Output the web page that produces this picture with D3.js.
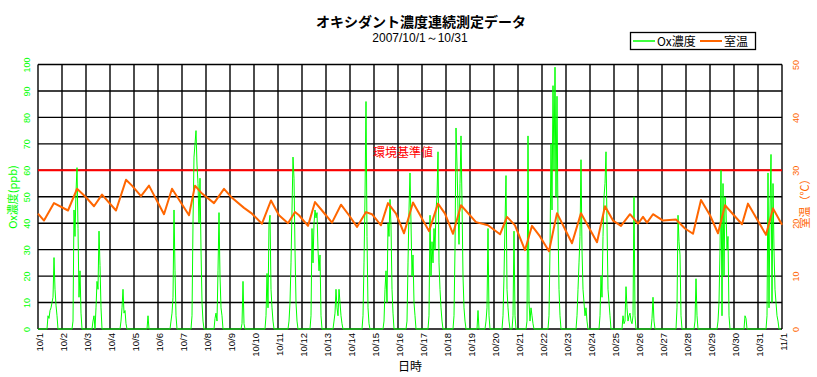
<!DOCTYPE html>
<html>
<head>
<meta charset="utf-8">
<script src="https://cdn.jsdelivr.net/npm/d3@7"></script>
<style>
  body { margin: 0; background: #fff; }
  svg { display: block; }
</style>
</head>
<body>
<svg id="chart"></svg>
<script>
// x labels, one per day boundary
const dayLabels = ["10/1","10/2","10/3","10/4","10/5","10/6","10/7","10/8","10/9","10/10",
  "10/11","10/12","10/13","10/14","10/15","10/16","10/17","10/18","10/19","10/20",
  "10/21","10/22","10/23","10/24","10/25","10/26","10/27","10/28","10/29","10/30","10/31","11/1"];
const oxTicks = [0,10,20,30,40,50,60,70,80,90,100];
const tempTicks = [0,10,20,30,40,50];
const standardValue = 60;

// Ox (ppb), hourly, one row per day (0h..23h)
const oxByDay = [
  [0,0,0,0,0,0,0,0,0,0,5,4,7,8,10,12,27,15,9,5,0,0,0,0],       // 10/1
  [0,0,0,0,0,0,0,0,0,0,0,3,45,35,52,61,38,12,22,6,0,0,0,0],
  [0,0,0,0,0,0,0,3,5,0,8,18,15,37,24,8,0,0,0,0,0,0,0,0],
  [0,0,0,0,0,0,0,0,0,0,0,3,8,15,6,7,2,0,0,0,0,0,0,0],
  [0,0,0,0,0,0,0,0,0,0,0,0,0,0,5,0,0,0,0,0,0,0,0,0],
  [0,0,0,0,0,0,0,0,0,0,0,0,0,3,6,12,45,22,5,0,0,0,0,0],
  [0,0,0,0,0,0,0,0,0,0,5,40,65,70,75,62,55,40,57,30,10,3,0,0], // 10/7
  [0,0,0,0,0,0,0,0,0,4,6,3,22,44,20,8,5,0,0,0,0,0,0,0],
  [0,0,0,0,0,0,0,0,0,0,0,0,2,18,2,0,0,0,0,0,0,0,0,0],
  [0,0,0,0,0,0,0,0,0,0,0,0,5,21,8,40,43,15,8,3,0,0,0,0],
  [0,0,0,0,0,0,0,0,0,0,0,3,10,25,45,65,57,30,10,3,0,0,0,0],
  [0,0,0,0,0,0,0,0,0,5,38,25,40,45,42,44,30,22,28,5,0,0,0,0],
  [0,0,0,0,0,0,0,0,3,6,15,8,5,15,10,5,2,0,0,0,0,0,0,0],
  [0,0,0,0,0,0,0,0,0,0,0,0,0,5,25,50,86,35,8,2,0,0,0,0],       // 10/14
  [0,0,0,0,0,0,0,0,0,0,3,15,22,10,40,35,49,39,15,6,0,0,0,0],
  [0,0,0,0,0,0,0,0,0,3,25,45,59,40,20,28,10,5,0,0,0,0,0,0],
  [0,0,0,0,0,0,0,5,43,20,33,25,38,30,45,50,67,25,15,8,3,0,0,0],
  [0,0,0,0,0,0,0,0,5,30,76,62,45,32,55,73,48,20,8,3,0,0,0,0],
  [0,0,0,0,0,0,0,0,7,0,0,0,0,0,0,0,3,8,38,5,0,0,0,0],
  [0,0,0,0,0,0,0,0,0,5,20,40,58,15,8,3,0,0,0,5,37,5,0,0],
  [0,0,0,0,0,0,0,0,0,3,73,10,3,8,5,2,0,0,0,0,0,0,0,0],
  [0,0,0,0,0,0,0,5,30,70,45,92,60,99,50,88,40,15,5,0,0,0,0,0],   // 10/22
  [0,0,0,0,0,0,0,0,0,0,0,5,15,25,35,64,30,15,10,5,8,3,0,0],
  [0,0,0,0,0,0,0,0,0,0,5,20,12,35,50,55,67,40,15,10,5,0,0,0],
  [0,0,0,0,0,0,0,0,0,5,2,3,16,8,3,5,6,3,2,5,50,5,0,0],
  [0,0,0,0,0,0,0,0,0,0,0,0,0,0,4,12,3,0,0,0,0,0,0,0],
  [0,0,0,0,0,0,0,0,0,0,0,0,0,0,0,8,43,33,28,5,0,0,0,0],
  [0,0,0,0,0,0,0,0,0,3,19,5,0,0,0,0,0,0,0,0,0,0,0,0],
  [0,0,0,0,0,0,0,0,3,10,30,60,5,55,20,50,45,30,35,5,0,0,0,0],
  [0,0,0,0,0,0,0,0,0,0,0,5,4,0,0,0,0,0,0,0,0,0,0,0],
  [0,0,0,0,0,0,0,0,0,5,59,8,45,66,10,55,30,15,10,5,3,0,0,0]     // 10/31
];

// room temperature (C): reading hours since 10/1 0:00 and values
const tempHours = [0,6,16,30,39,48,56,64,78,88,94,103,111,126,134,151,157,164,176,186,
  194,206,214,224,233,241,250,257,261,270,277,284,294,303,311,319,328,334,343,350,
  358,366,375,383,391,400,407,415,423,438,450,462,469,477,487,494,502,511,519,534,
  543,559,567,575,583,592,596,600,605,609,615,625,638,647,655,663,672,680,687,704,
  710,728,735,744];
const tempValues = [21.8,20.5,23.8,22.4,26.5,24.9,23.2,25.4,22.4,28.2,27.1,25.1,27.1,21.7,26.5,21.5,27.1,25.6,23.8,26.5,
  24.8,22.9,21.8,19.9,24.3,21.5,20.0,22.1,21.5,19.5,24.0,22.4,20.1,23.5,21.5,19.3,22.1,21.7,19.6,23.8,
  21.8,18.1,23.9,21.2,18.5,23.7,21.8,18.0,23.4,20.2,19.6,17.9,21.2,19.6,14.9,19.5,17.5,14.7,21.9,16.2,
  21.9,16.4,23.2,20.5,19.5,21.7,20.8,19.9,21.2,20.1,21.7,20.5,20.7,19.0,18.0,24.4,21.5,18.1,23.4,19.8,
  23.7,17.8,22.8,19.7];

const W = 817, H = 377;
const green = "#00ff00", orange = "#ff6600";
const jp = "'Noto Sans CJK JP', sans-serif";
const latin = "'Liberation Sans', Arial, sans-serif";

const svg = d3.select("#chart").attr("width", W).attr("height", H);
svg.append("rect").attr("width", W).attr("height", H).attr("fill", "#fff");

const x = d3.scaleLinear().domain([0, 24 * (dayLabels.length - 1)]).range([38, 782]);
const yOx = d3.scaleLinear().domain([0, 100]).range([329, 64.5]);
const yT = d3.scaleLinear().domain([0, 50]).range([329, 64.5]);

// grid
const grid = svg.append("g").attr("stroke", "#000").attr("stroke-width", 1.4);
grid.selectAll("line.h").data(oxTicks).join("line")
    .attr("x1", x.range()[0]).attr("x2", x.range()[1])
    .attr("y1", d => yOx(d)).attr("y2", d => yOx(d));
grid.selectAll("line.v").data(dayLabels).join("line")
    .attr("x1", (d, i) => x(i * 24)).attr("x2", (d, i) => x(i * 24))
    .attr("y1", yOx(0)).attr("y2", yOx(100));

// environmental standard line
svg.append("line")
    .attr("x1", x.range()[0]).attr("x2", x.range()[1])
    .attr("y1", yOx(standardValue)).attr("y2", yOx(standardValue))
    .attr("stroke", "#ff0000").attr("stroke-width", 2);
svg.append("text")
    .attr("x", 403).attr("y", yOx(standardValue) - 13)
    .attr("text-anchor", "middle")
    .attr("font-family", jp).attr("font-size", 12).attr("fill", "#ff0000")
    .text("環境基準値");

// series
const oxSeries = oxByDay.flatMap((row, d) => row.map((v, h) => ({ t: d * 24 + h, v })));
const tempSeries = tempHours.map((t, i) => ({ t, v: tempValues[i] }));

svg.append("path").datum(oxSeries)
    .attr("fill", "none").attr("stroke", green).attr("stroke-width", 1)
    .attr("d", d3.line().x(d => x(d.t)).y(d => yOx(d.v)));
svg.append("path").datum(tempSeries)
    .attr("fill", "none").attr("stroke", orange).attr("stroke-width", 2)
    .attr("stroke-linejoin", "round")
    .attr("d", d3.line().x(d => x(d.t)).y(d => yT(d.v)));

// axes
const xAxis = d3.axisBottom(x)
    .tickValues(dayLabels.map((d, i) => i * 24))
    .tickFormat((d, i) => dayLabels[i])
    .tickSize(0);
const gx = svg.append("g").attr("transform", `translate(0,${yOx(0)})`).call(xAxis);
gx.select(".domain").remove();
gx.selectAll("text")
    .attr("transform", "rotate(-90)")
    .attr("x", -4).attr("y", 4.5).attr("dy", 0)
    .attr("text-anchor", "end")
    .attr("font-family", latin).attr("font-size", 9.5).attr("fill", "#000");

const yAxisL = d3.axisLeft(yOx).tickValues(oxTicks).tickSize(0);
const gl = svg.append("g").attr("transform", `translate(${x.range()[0]},0)`).call(yAxisL);
gl.select(".domain").remove();
gl.selectAll("text")
    .attr("transform", "rotate(-90)")
    .attr("x", 0).attr("y", -8).attr("dy", 0)
    .attr("text-anchor", "middle")
    .attr("font-family", latin).attr("font-size", 9).attr("fill", green);

const yAxisR = d3.axisRight(yT).tickValues(tempTicks).tickSize(0);
const gr = svg.append("g").attr("transform", `translate(${x.range()[1]},0)`).call(yAxisR);
gr.select(".domain").remove();
gr.selectAll("text")
    .attr("transform", "rotate(-90)")
    .attr("x", 0).attr("y", 16.5).attr("dy", 0)
    .attr("text-anchor", "middle")
    .attr("font-family", latin).attr("font-size", 9).attr("fill", orange);

// axis titles
svg.append("text")
    .attr("transform", "translate(12,197) rotate(-90)")
    .attr("text-anchor", "middle").attr("dominant-baseline", "central")
    .attr("font-family", jp).attr("font-size", 11).attr("fill", green)
    .text("Ox濃度(ppb)");
svg.append("text")
    .attr("transform", "translate(804,201) rotate(-90)")
    .attr("text-anchor", "middle").attr("dominant-baseline", "central")
    .attr("font-family", jp).attr("font-size", 11).attr("fill", orange)
    .text("室温（℃）");
svg.append("text")
    .attr("x", 410).attr("y", 371)
    .attr("text-anchor", "middle")
    .attr("font-family", jp).attr("font-size", 12).attr("fill", "#000")
    .text("日時");

// titles
svg.append("text")
    .attr("x", 421).attr("y", 27)
    .attr("text-anchor", "middle")
    .attr("font-family", jp).attr("font-size", 14).attr("font-weight", "bold")
    .text("オキシダント濃度連続測定データ");
svg.append("text")
    .attr("x", 420).attr("y", 42)
    .attr("text-anchor", "middle")
    .attr("font-family", latin).attr("font-size", 12)
    .text("2007/10/1～10/31");

// legend
const lg = svg.append("g");
lg.append("rect").attr("x", 630.5).attr("y", 32.5).attr("width", 125).attr("height", 17)
    .attr("fill", "#fff").attr("stroke", "#000").attr("stroke-width", 1.3);
lg.append("line").attr("x1", 633).attr("x2", 655).attr("y1", 41).attr("y2", 41)
    .attr("stroke", green).attr("stroke-width", 1.5);
lg.append("text").attr("x", 657).attr("y", 45.5)
    .attr("font-family", jp).attr("font-size", 12).text("Ox濃度");
lg.append("line").attr("x1", 700).attr("x2", 722).attr("y1", 41).attr("y2", 41)
    .attr("stroke", orange).attr("stroke-width", 2);
lg.append("text").attr("x", 724).attr("y", 45.5)
    .attr("font-family", jp).attr("font-size", 12).text("室温");
</script>
</body>
</html>
